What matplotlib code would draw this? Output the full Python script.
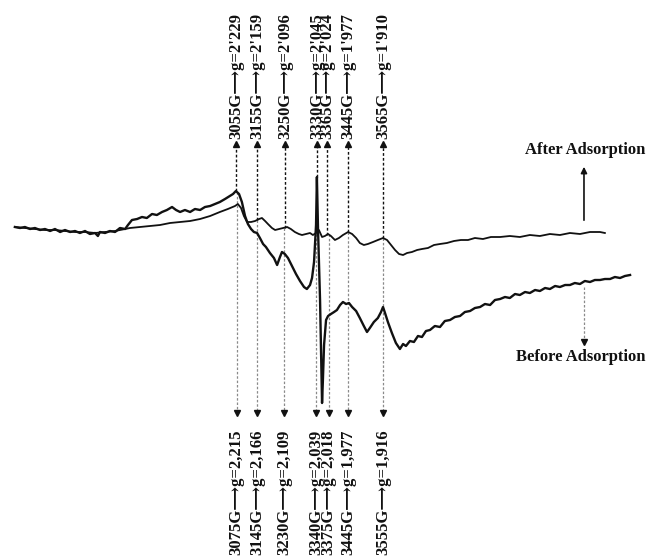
import numpy as np
import matplotlib.pyplot as plt

# EPR spectra, field in gauss, signal in arbitrary units
before_field = [2279, 2297, 2314, 2332, 2349, 2367, 2384, 2402, 2419, 2437, 2454, 2472, 2489, 2506,
                2524, 2541, 2559, 2569, 2576, 2594, 2611, 2629, 2646, 2664, 2674, 2688, 2706, 2723,
                2740, 2758, 2775, 2793, 2810, 2828, 2842, 2856, 2873, 2891, 2908, 2926, 2943, 2961,
                2978, 2995, 3013, 3030, 3041, 3051, 3062, 3072, 3083, 3093, 3104, 3114, 3125, 3135,
                3146, 3156, 3170, 3184, 3195, 3205, 3212, 3222, 3233, 3247, 3261, 3275, 3289, 3299,
                3310, 3317, 3324, 3331, 3334, 3338, 3345, 3352, 3355, 3359, 3366, 3373, 3383, 3394,
                3404, 3415, 3425, 3436, 3446, 3457, 3471, 3484, 3498, 3509, 3519, 3533, 3547, 3558,
                3565, 3572, 3582, 3596, 3610, 3624, 3635, 3645, 3659, 3673, 3687, 3701, 3715, 3729,
                3746, 3764, 3781, 3799, 3816, 3834, 3851, 3869, 3886, 3904, 3921, 3939, 3956, 3974,
                3991, 4008, 4026, 4043, 4061, 4078, 4096, 4113, 4131, 4148, 4166, 4183, 4201, 4218,
                4235, 4253, 4270, 4288, 4305, 4323, 4340, 4358, 4375, 4393, 4410, 4428]
before_signal = [3, 2, 3, 1, 2, 0, 1, -1, 1, -2, 0, -2, -1, -3,
                 -1, -4, -3, -6, -2, -3, -1, -2, 2, 1, 5, 10, 11, 13,
                 12, 16, 15, 18, 20, 23, 20, 18, 20, 18, 21, 20, 23, 24,
                 26, 28, 31, 34, 36, 39, 36, 28, 14, 6, 1, -2, -3, -8,
                 -14, -17, -23, -28, -35, -27, -22, -24, -28, -36, -44, -51, -57, -59,
                 -55, -48, -32, 5, 53, 0, -70, -173, -150, -115, -90, -86, -84, -82,
                 -80, -75, -72, -74, -73, -77, -81, -88, -96, -102, -98, -92, -88, -82,
                 -77, -83, -92, -103, -113, -119, -114, -116, -111, -112, -106, -107, -101, -100,
                 -96, -97, -91, -90, -87, -86, -82, -81, -78, -77, -74, -75, -70, -69,
                 -67, -68, -64, -65, -62, -63, -60, -61, -58, -59, -56, -57, -55, -55,
                 -53, -54, -51, -52, -50, -50, -49, -49, -47, -48, -46, -45]

after_field = [2279, 2314, 2349, 2384, 2419, 2454, 2489, 2524, 2559, 2594, 2629, 2664, 2681, 2716,
               2751, 2786, 2821, 2856, 2891, 2926, 2961, 2995, 3023, 3048, 3058, 3069, 3079, 3090,
               3104, 3118, 3132, 3142, 3153, 3163, 3177, 3188, 3202, 3216, 3230, 3243, 3257, 3271,
               3282, 3296, 3310, 3320, 3331, 3341, 3352, 3362, 3373, 3383, 3397, 3411, 3425, 3443,
               3457, 3471, 3484, 3498, 3512, 3530, 3547, 3565, 3579, 3593, 3607, 3621, 3635, 3649,
               3666, 3684, 3701, 3722, 3743, 3764, 3788, 3813, 3837, 3862, 3886, 3914, 3942, 3974,
               4008, 4043, 4078, 4113, 4148, 4183, 4218, 4253, 4288, 4323, 4340]
after_signal = [3, 2, 1, 0, 0, -1, -2, -2, -3, -2, -1, 1, 2, 3,
                4, 5, 7, 8, 9, 11, 14, 18, 21, 24, 26, 22, 14, 8,
                8, 9, 11, 12, 9, 6, 2, 0, 1, 2, 3, 1, -2, -4,
                -5, -4, -3, -5, -3, 0, -7, -6, -4, -6, -10, -8, -5, -2,
                -4, -8, -13, -15, -14, -12, -10, -8, -10, -15, -20, -24, -25, -23,
                -22, -20, -19, -18, -15, -14, -13, -11, -10, -10, -8, -9, -7, -7,
                -6, -7, -5, -6, -4, -5, -3, -4, -2, -2, -3]

# marked lines (field in gauss) and their labels
top_pos = [3051, 3125, 3222, 3334, 3369, 3443, 3565]
top_labels = ["3055G", "3155G", "3250G", "3330G", "3365G", "3445G", "3565G"]
top_g = ["2'229", "2'159", "2'096", "2'045", "2'024", "1'977", "1'910"]

bottom_pos = [3054, 3125, 3219, 3331, 3375, 3443, 3566]
bottom_labels = ["3075G", "3145G", "3230G", "3340G", "3375G", "3445G", "3555G"]
bottom_g = ["2,215", "2,166", "2,109", "2,039", "2,018", "1,977", "1,916"]

ink = "#111111"
serif = ["Liberation Serif", "DejaVu Serif"]

fig = plt.figure(figsize=(6.67, 5.58), dpi=100)
ax = fig.add_axes([0, 0, 1, 1])
ax.set_xlim(2227, 4557)
ax.set_ylim(-328, 230)
ax.axis("off")

ax.plot(after_field, after_signal, color=ink, lw=1.3, zorder=3)
ax.plot(before_field, before_signal, color=ink, lw=1.7, zorder=3)

def envelope(x):
    return max(np.interp(x, before_field, before_signal),
               np.interp(x, after_field, after_signal))

# upper markers: dark dotted lines with labels above
for pos, lab, g in zip(top_pos, top_labels, top_g):
    ax.plot([pos, pos], [envelope(pos), 84], color=ink, lw=1.0,
            linestyle=(0, (2, 1.5)), zorder=2)
    ax.plot(pos, 86, marker="^", ms=4, color=ink, zorder=4)
    ax.text(pos, 91, lab + "\u27f6g=" + g, rotation=90, ha="center", va="bottom",
            fontsize=12, fontweight="bold", family=serif + ["DejaVu Sans"], color=ink)

# lower markers: light dotted lines with labels below
for pos, lab, g in zip(bottom_pos, bottom_labels, bottom_g):
    ax.plot([pos, pos], [envelope(pos), -181], color="#8a8a8a", lw=0.9,
            linestyle=(0, (2, 1.5)), zorder=1)
    ax.plot(pos, -183, marker="v", ms=4, color=ink, zorder=4)
    ax.text(pos, -325, lab + "\u27f6g=" + g, rotation=90, ha="center", va="bottom",
            fontsize=12, fontweight="bold", family=serif + ["DejaVu Sans"], color=ink)

ax.annotate("", xy=(4267, 66), xytext=(4267, 7),
            arrowprops=dict(arrowstyle="-|>", color=ink, lw=1.2, mutation_scale=9))
ax.text(4270, 80, "After Adsorption", ha="center", va="center",
        fontsize=12, fontweight="bold", family=serif, color=ink)

ax.plot([4267, 4267], [-57, -110], color="#8a8a8a", lw=0.9, linestyle=(0, (2, 1.5)))
ax.plot(4267, -112, marker="v", ms=5, color=ink)
ax.text(4257, -127, "Before Adsorption", ha="center", va="center",
        fontsize=12, fontweight="bold", family=serif, color=ink)

fig.savefig("out.png", dpi=100, facecolor="white")
